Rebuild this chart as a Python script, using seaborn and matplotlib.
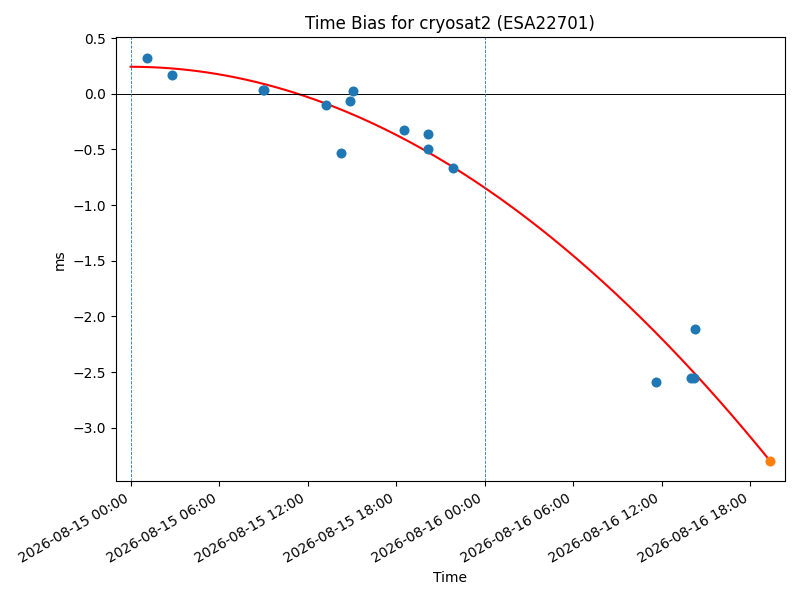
import pandas as pd
import numpy as np
import matplotlib
matplotlib.use("Agg")
import matplotlib.pyplot as plt
import matplotlib.dates as mdates
import seaborn as sns

# measured time bias samples
obs_times = ["2026-08-15 01:08", "2026-08-15 02:47", "2026-08-15 08:57", "2026-08-15 09:03",
             "2026-08-15 13:15", "2026-08-15 14:16", "2026-08-15 14:52", "2026-08-15 15:05",
             "2026-08-15 18:32", "2026-08-15 20:11", "2026-08-15 20:11", "2026-08-15 21:53",
             "2026-08-16 11:38", "2026-08-16 14:01", "2026-08-16 14:11", "2026-08-16 14:17"]
obs_ms = [0.325, 0.17, 0.03, 0.035,
          -0.10, -0.53, -0.065, 0.025,
          -0.33, -0.36, -0.50, -0.67,
          -2.59, -2.55, -2.55, -2.11]

# predicted point at end of the fit
pred_time = ["2026-08-16 19:22"]
pred_ms = [-3.30]

# points (hours from start, ms)
curve_hours = [0.0, 11.39, 21.89, 24.0, 29.08, 35.88, 38.38, 43.37]
curve_ms = [0.239, 0.0, -0.652, -0.831, -1.388, -2.172, -2.529, -3.30]

start = pd.Timestamp("2026-08-15 00:00")
day_mark = pd.Timestamp("2026-08-16 00:00")

obs = pd.DataFrame({"Time": pd.to_datetime(obs_times), "ms": obs_ms})
pred = pd.DataFrame({"Time": pd.to_datetime(pred_time), "ms": pred_ms})

# smooth quadratic through the curve readings
coef = np.polyfit(curve_hours, curve_ms, 2)
hh = np.linspace(curve_hours[0], curve_hours[-1], 200)
fit = pd.DataFrame({"Time": start + pd.to_timedelta(hh, unit="h"), "ms": np.polyval(coef, hh)})

fig, ax = plt.subplots(figsize=(8, 6), dpi=100)
sns.scatterplot(data=obs, x="Time", y="ms", ax=ax, color="C0", s=52, linewidth=0, zorder=3)
sns.lineplot(data=fit, x="Time", y="ms", ax=ax, color="red", linewidth=1.5, zorder=2)
sns.scatterplot(data=pred, x="Time", y="ms", ax=ax, color="C1", s=52, linewidth=0, zorder=4)

ax.axhline(0, color="black", linewidth=0.7)
ax.axvline(start, color="C0", linestyle="--", linewidth=0.6)
ax.axvline(day_mark, color="C0", linestyle="--", linewidth=0.6)

ax.set_xlim(start - pd.Timedelta(hours=1), pred["Time"].iloc[0] + pd.Timedelta(hours=1))
ax.xaxis.set_major_locator(mdates.HourLocator(byhour=[0, 6, 12, 18]))
ax.xaxis.set_major_formatter(mdates.DateFormatter("%Y-%m-%d %H:%M"))
fig.autofmt_xdate()

ax.set_title("Time Bias for cryosat2 (ESA22701)")
ax.set_xlabel("Time")
ax.set_ylabel("ms")
plt.tight_layout()
plt.savefig("out.png")
